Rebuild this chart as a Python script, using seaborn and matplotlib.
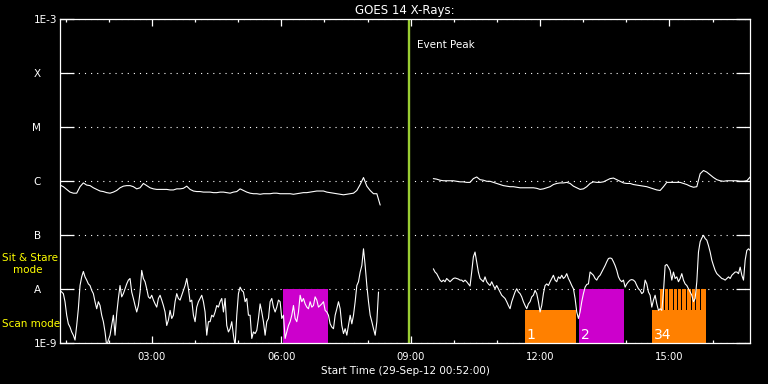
import numpy as np
import pandas as pd
import matplotlib
matplotlib.use("Agg")
import matplotlib.pyplot as plt
import matplotlib.transforms as mtransforms
from matplotlib.ticker import FixedLocator, NullLocator
import seaborn as sns

# ---------------- data ----------------
# GOES 14 X-ray fluxes, log10(W/m^2), regular cadence, two segments (data gap)
seg_start_hours = [0.867, 9.524]          # 00:52 and 09:31
long_cadence_min = 4.64
short_cadence_min = 2.32

long_seg1 = [
    -6.07, -6.10, -6.15, -6.20, -6.22, -6.22, -6.10, -6.03, -6.07, -6.08,
    -6.12, -6.15, -6.18, -6.19, -6.21, -6.22, -6.20, -6.17, -6.12, -6.09,
    -6.08, -6.08, -6.10, -6.14, -6.12, -6.04, -6.08, -6.12, -6.14, -6.15,
    -6.15, -6.15, -6.15, -6.16, -6.16, -6.14, -6.14, -6.13, -6.09, -6.15,
    -6.18, -6.19, -6.19, -6.20, -6.20, -6.20, -6.21, -6.21, -6.20, -6.20,
    -6.21, -6.22, -6.20, -6.19, -6.14, -6.17, -6.20, -6.22, -6.23, -6.23,
    -6.24, -6.23, -6.23, -6.23, -6.22, -6.22, -6.23, -6.23, -6.23, -6.23,
    -6.24, -6.23, -6.22, -6.21, -6.21, -6.20, -6.19, -6.18, -6.18, -6.18,
    -6.20, -6.21, -6.22, -6.23, -6.24, -6.25, -6.24, -6.23, -6.22, -6.17,
    -6.06, -5.93, -6.09, -6.17, -6.23, -6.23, -6.44]
long_seg2 = [
    -5.95, -5.96, -5.98, -5.99, -5.99, -5.99, -5.99, -6.00, -6.01, -6.01,
    -6.02, -6.02, -5.95, -5.92, -5.97, -5.98, -6.00, -6.00, -6.02, -6.04,
    -6.06, -6.08, -6.09, -6.10, -6.10, -6.11, -6.12, -6.12, -6.12, -6.12,
    -6.12, -6.13, -6.15, -6.14, -6.12, -6.10, -6.06, -6.04, -6.03, -6.03,
    -6.02, -6.04, -6.09, -6.12, -6.15, -6.14, -6.10, -6.04, -6.01, -6.02,
    -6.02, -6.01, -5.98, -5.95, -5.94, -5.97, -6.00, -6.03, -6.04, -6.04,
    -6.06, -6.07, -6.08, -6.09, -6.10, -6.12, -6.14, -6.16, -6.17, -6.10,
    -6.02, -6.02, -6.02, -6.02, -6.02, -6.04, -6.06, -6.09, -6.11, -6.10,
    -5.86, -5.80, -5.83, -5.88, -5.93, -5.97, -5.99, -6.00, -5.99, -5.99,
    -5.99, -5.99, -6.00, -6.00, -5.99, -5.92]

short_seg1 = [
    -8.02, -8.05, -8.08, -8.23, -8.48, -8.64, -8.70, -8.79, -8.85, -8.94,
    -8.67, -8.36, -7.93, -7.77, -7.67, -7.77, -7.83, -7.90, -7.93, -8.02,
    -8.08, -8.23, -8.36, -8.23, -8.30, -8.48, -8.60, -8.79, -9.05, -8.94,
    -8.85, -8.67, -8.48, -8.85, -8.45, -8.17, -7.93, -8.14, -8.08, -7.99,
    -7.90, -7.83, -7.80, -8.05, -8.17, -8.30, -8.42, -8.30, -8.05, -7.65,
    -7.80, -7.86, -7.99, -8.14, -8.17, -8.11, -8.20, -8.27, -8.33, -8.17,
    -8.11, -8.20, -8.30, -8.42, -8.67, -8.57, -8.39, -8.54, -8.48, -8.23,
    -8.08, -8.17, -8.20, -8.11, -8.02, -7.93, -7.80, -7.99, -8.23, -8.20,
    -8.48, -8.60, -8.33, -8.23, -8.17, -8.11, -8.23, -8.42, -8.85, -8.60,
    -8.60, -8.48, -8.51, -8.42, -8.30, -8.33, -8.23, -8.17, -8.42, -8.17,
    -8.67, -8.79, -8.73,
    -8.60, -8.85, -9.05, -8.48, -8.08, -7.96, -8.02, -8.05, -8.23, -8.17,
    -8.48, -8.48, -8.91, -8.79, -8.82, -8.76, -8.54, -8.27, -8.42, -8.60,
    -8.85, -8.60, -8.54, -8.23, -8.17, -8.33, -8.42, -8.33, -8.20, -8.23,
    -8.54, -8.48, -8.91, -8.79, -8.67, -8.60, -8.48, -8.30, -8.54, -8.60,
    -8.42, -8.11, -8.23, -8.17, -8.27, -8.33, -8.36, -8.23, -8.33, -8.30,
    -8.14, -8.20, -8.33, -8.30, -8.27, -8.23, -8.39, -8.42, -8.48, -8.64,
    -8.70, -8.73, -8.48, -8.36, -8.23, -8.36, -8.67, -8.82, -8.73, -8.85,
    -8.67, -8.48, -8.64, -8.48, -8.23, -7.93, -7.86, -7.68, -7.56, -7.25,
    -7.56, -7.93, -8.23, -8.48, -8.60, -8.73, -8.85, -8.60, -8.05]
short_seg2 = [
    -7.62, -7.68, -7.71, -7.77, -7.83, -7.86, -7.83, -7.86, -7.80, -7.83,
    -7.86, -7.83, -7.80, -7.79, -7.80, -7.81, -7.83, -7.83, -7.86, -7.83,
    -7.86, -7.90, -7.94, -7.68, -7.40, -7.31, -7.49, -7.68, -7.80, -7.83,
    -7.86, -7.77, -7.86, -7.90, -7.93, -7.86, -7.93, -7.99, -7.93, -7.99,
    -8.05, -8.11, -8.14, -8.17, -8.23, -8.30, -8.36, -8.23, -8.14, -8.05,
    -7.99, -8.05, -8.08, -8.14, -8.23, -8.30, -8.36, -8.27, -8.23, -8.14,
    -8.11, -8.02, -8.08, -8.23, -8.42, -8.30, -8.08, -7.93, -7.90, -7.93,
    -7.86, -7.80, -7.74, -7.83, -7.86, -7.77, -7.80, -7.74, -7.80, -7.77,
    -7.71, -7.80, -7.86, -7.93, -7.99, -8.17, -8.42, -8.54, -8.42, -8.23,
    -8.08, -7.96, -7.91, -7.90,
    -7.68, -7.71, -7.74, -7.80, -7.83, -7.77, -7.74, -7.68, -7.62, -7.56,
    -7.49, -7.43, -7.42, -7.43, -7.49, -7.56, -7.65, -7.77, -7.83, -7.86,
    -7.83, -7.96, -7.90, -7.86, -7.83, -7.82, -7.83, -7.86, -7.93, -7.99,
    -8.02, -8.08, -8.05, -7.83, -7.90, -8.05, -8.11, -8.33, -8.20, -8.11,
    -8.27, -8.39, -8.36, -8.39, -8.05, -7.56, -7.54, -7.59, -7.65, -7.83,
    -7.68, -7.80, -7.77, -7.86, -7.80, -7.71, -7.83, -7.90, -7.93, -7.99,
    -8.05, -8.11, -8.23, -8.17, -7.86, -7.31, -7.12, -7.05, -7.00, -7.06,
    -7.09, -7.19, -7.31, -7.46, -7.56, -7.65, -7.71, -7.74, -7.77, -7.80,
    -7.81, -7.83, -7.80, -7.77, -7.80, -7.74, -7.71, -7.68, -7.68, -7.71,
    -7.59, -7.74, -7.83, -7.46, -7.28, -7.25, -7.28]

# instrument observing windows (hours of 29-Sep-12)
stare_start = [6.04, 12.90]
stare_end = [7.08, 13.94]
stare_labels = ["", "2"]
scan_start = [11.65, 14.59]
scan_end = [12.83, 15.85]
scan_labels = ["1", "34"]
raster_start = [14.780, 14.889, 14.988, 15.097, 15.197, 15.297, 15.406, 15.515, 15.614, 15.723]
raster_end = [14.866, 14.965, 15.074, 15.174, 15.273, 15.382, 15.492, 15.591, 15.700, 15.846]

flux_floor = 1e-9
stare_level = 1e-8
scan_level = 4.1e-9

event_peak_hour = 8.95
x_range = [0.8667, 16.8667]

ytick_values = [1e-9, 1e-8, 1e-7, 1e-6, 1e-5, 1e-4, 1e-3]
ytick_labels = ["1E-9", "A     ", "B     ", "C     ", "M     ", "X     ", "1E-3"]
xtick_hours = [3, 6, 9, 12, 15]
xtick_labels = ["03:00", "06:00", "09:00", "12:00", "15:00"]
xminor_hours = [1, 2, 4, 5, 7, 8, 10, 11, 13, 14, 16]

ORANGE = "#FF8000"
MAGENTA = "#CC00CC"
PEAK = "#9ACD32"
YELLOW = "#FFFF00"

# ---------------- build table ----------------
def segment(values, start_h, cadence_min, name):
    hours = start_h + np.arange(len(values)) * cadence_min / 60.0
    return pd.DataFrame({"hour": hours, "flux": 10.0 ** np.asarray(values), "trace": name})

df = pd.concat([
    segment(long_seg1, seg_start_hours[0], long_cadence_min, "long1"),
    segment(long_seg2, seg_start_hours[1], long_cadence_min, "long2"),
    segment(short_seg1, seg_start_hours[0], short_cadence_min, "short1"),
    segment(short_seg2, seg_start_hours[1], short_cadence_min, "short2"),
], ignore_index=True)

# ---------------- style ----------------
sns.set_theme(style="white", rc={
    "figure.facecolor": "black", "axes.facecolor": "black", "savefig.facecolor": "black",
    "axes.edgecolor": "white", "axes.linewidth": 0.9, "text.color": "white",
    "axes.labelcolor": "white", "xtick.color": "white", "ytick.color": "white",
    "lines.scale_dashes": False,
})
plt.rcParams["font.family"] = ["DejaVu Sans"]

fig = plt.figure(figsize=(7.68, 3.84), dpi=100)
ax = fig.add_axes([60 / 768, 40.7 / 384, 690 / 768, 324 / 384])
ax.set_yscale("log")
ax.set_ylim(1e-9, 1e-3)
ax.set_xlim(*x_range)

# observing windows
ax.bar(stare_start, [stare_level - flux_floor] * len(stare_start),
       width=np.subtract(stare_end, stare_start), bottom=flux_floor, align="edge",
       color=MAGENTA, linewidth=0, zorder=1)
ax.bar(scan_start, [scan_level - flux_floor] * len(scan_start),
       width=np.subtract(scan_end, scan_start), bottom=flux_floor, align="edge",
       color=ORANGE, linewidth=0, zorder=1)
# raster band: full orange span, then the short pauses between rasters in black
ax.bar([raster_start[0]], [stare_level - scan_level],
       width=[raster_end[-1] - raster_start[0]], bottom=scan_level, align="edge",
       color=ORANGE, linewidth=0, zorder=1)
gap_start = raster_end[:-1]
gap_width = np.subtract(raster_start[1:], raster_end[:-1])
ax.bar(gap_start, [stare_level - scan_level] * len(gap_start), width=gap_width,
       bottom=scan_level, align="edge", color="black", linewidth=0, zorder=1.1,
       antialiased=False)

blend = mtransforms.blended_transform_factory(ax.transData, ax.transAxes)
for s, lab in zip(scan_start + stare_start, scan_labels + stare_labels):
    if lab:
        ax.annotate(lab, xy=(s, 0.012), xycoords=blend, xytext=(1.2, 0),
                    textcoords="offset points", ha="left", va="baseline",
                    fontsize=10, color="white", zorder=4)

# grid
ax.grid(axis="y", which="major", color="white", linestyle=(0, (0.8, 3.6)), linewidth=0.8)
ax.set_axisbelow(True)

# event peak
ax.axvline(event_peak_hour, color=PEAK, linewidth=1.7, zorder=2)
ax.annotate("Event Peak", xy=(event_peak_hour, 0.912), xycoords=blend,
            xytext=(6.3, 0), textcoords="offset points", ha="left", va="baseline",
            fontsize=7.5, color="white")

# flux curves
sns.lineplot(data=df, x="hour", y="flux", units="trace", estimator=None, sort=False,
             color="white", linewidth=0.8, legend=False, ax=ax, zorder=3)

# ticks
ax.set_yticks(ytick_values)
ax.set_yticklabels(ytick_labels)
ax.yaxis.set_minor_locator(NullLocator())
ax.tick_params(axis="y", which="major", direction="in", length=10, width=0.9,
               left=True, right=True, labelsize=7.5, pad=2)
ax.set_xticks(xtick_hours)
ax.set_xticklabels(xtick_labels)
ax.xaxis.set_minor_locator(FixedLocator(xminor_hours))
ax.tick_params(axis="x", which="major", direction="in", length=5, width=0.9,
               top=True, bottom=True, labelsize=7.2, pad=6)
ax.tick_params(axis="x", which="minor", direction="in", length=2.4, width=0.9,
               top=True, bottom=True)

ax.set_xlabel("Start Time (29-Sep-12 00:52:00)", fontsize=7.5, labelpad=3)
ax.set_ylabel("")
ax.set_title("GOES 14 X-Rays:", fontsize=8.5, color="white", pad=4)

# mode labels (left margin)
ax.text(-0.0843, 0.262, "Sit & Stare", transform=ax.transAxes, color=YELLOW,
        fontsize=7.5, ha="left", va="center")
ax.text(-0.0683, 0.225, "mode", transform=ax.transAxes, color=YELLOW,
        fontsize=7.5, ha="left", va="center")
ax.text(-0.0843, 0.060, "Scan mode", transform=ax.transAxes, color=YELLOW,
        fontsize=7.5, ha="left", va="center")

for sp in ax.spines.values():
    sp.set_color("white")
    sp.set_linewidth(0.9)

fig.savefig("out.png", dpi=100, facecolor="black")
